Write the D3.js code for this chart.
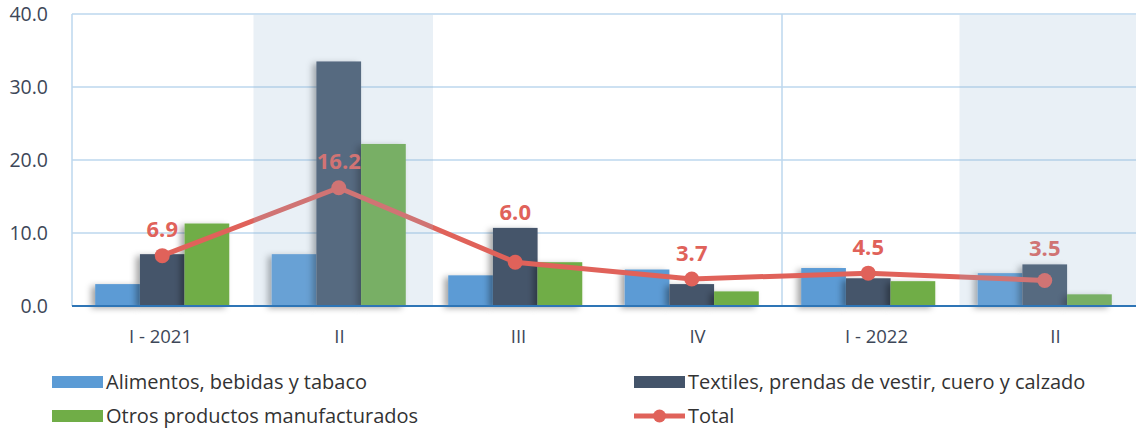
<!DOCTYPE html>
<html lang="es">
<head>
  <script src="https://d3js.org/d3.v7.min.js"></script>
  <style>
    body { margin: 0; background: #fff; font-family: "Open Sans", "Noto Sans", sans-serif; }
    .tick text { fill: #3d4758; }
  </style>
</head>
<body>
<div id="chart"></div>
<script>
  // data
  var periods = ["I - 2021", "II", "III", "IV", "I - 2022", "II"];
  var alimentos = [3.0, 7.1, 4.2, 5.0, 5.2, 4.5];
  var textiles = [7.1, 33.5, 10.7, 3.0, 3.8, 5.7];
  var otros = [11.3, 22.2, 6.0, 2.0, 3.4, 1.6];
  var total = [6.9, 16.2, 6.0, 3.7, 4.5, 3.5];
  var yTicks = [0, 10, 20, 30, 40];
  var shadedPeriods = [1, 5];

  var seriesNames = ["Alimentos, bebidas y tabaco", "Textiles, prendas de vestir, cuero y calzado",
                     "Otros productos manufacturados", "Total"];
  var colors = ["#5b9bd5", "#44546a", "#70ad47", "#e0625a"];

  var width = 1136, height = 433;
  var plotLeft = 72, plotRight = 1136, plotTop = 14, plotBottom = 306;

  var svg = d3.select("#chart").append("svg")
      .attr("width", width)
      .attr("height", height);

  var defs = svg.append("defs");
  var shadow = defs.append("filter").attr("id", "shadow")
      .attr("x", "-30%").attr("y", "-10%").attr("width", "160%").attr("height", "130%");
  shadow.append("feDropShadow")
      .attr("dx", -4).attr("dy", 2).attr("stdDeviation", 3)
      .attr("flood-color", "#000").attr("flood-opacity", 0.35);

  var idx = d3.range(periods.length);
  var x = d3.scaleBand().domain(idx).range([74, 1133]).paddingInner(0).paddingOuter(0);
  var xs = d3.scaleBand().domain([0, 1, 2]).range([0, x.bandwidth()]).paddingOuter(0.475).paddingInner(0);
  // category labels are spread a little wider than the bar groups
  var xLabel = d3.scaleBand().domain(idx).range([71, 1145]);
  var y = d3.scaleLinear().domain([0, 40]).range([plotBottom, plotTop]);

  // gridlines
  svg.append("g").selectAll("line").data(yTicks).enter().append("line")
      .attr("x1", plotLeft).attr("x2", plotRight)
      .attr("y1", function(d) { return y(d); }).attr("y2", function(d) { return y(d); })
      .attr("stroke", "#bdd7ee").attr("stroke-width", 1.5);
  svg.append("line")
      .attr("x1", plotLeft).attr("x2", plotLeft).attr("y1", plotTop).attr("y2", plotBottom)
      .attr("stroke", "#bdd7ee").attr("stroke-width", 1.5);
  // year separator
  svg.append("line")
      .attr("x1", x(4) + 2).attr("x2", x(4) + 2).attr("y1", plotTop).attr("y2", plotBottom)
      .attr("stroke", "#bdd7ee").attr("stroke-width", 1.5);

  // bars
  var groups = [alimentos, textiles, otros];
  groups.forEach(function(vals, s) {
    svg.append("g").attr("filter", "url(#shadow)")
      .selectAll("rect").data(vals).enter().append("rect")
        .attr("x", function(d, i) { return x(i) + xs(s); })
        .attr("width", xs.bandwidth())
        .attr("y", function(d) { return y(d); })
        .attr("height", function(d) { return y(0) - y(d); })
        .attr("fill", colors[s]);
  });

  // x axis line
  svg.append("line")
      .attr("x1", plotLeft).attr("x2", plotRight).attr("y1", y(0)).attr("y2", y(0))
      .attr("stroke", "#2e75b6").attr("stroke-width", 2);

  // total line
  var line = d3.line()
      .x(function(d, i) { return x(i) + x.bandwidth() / 2; })
      .y(function(d) { return y(d); });
  svg.append("path").datum(total)
      .attr("d", line)
      .attr("fill", "none")
      .attr("stroke", colors[3])
      .attr("stroke-width", 5)
      .attr("stroke-linejoin", "round");
  svg.append("g").selectAll("circle").data(total).enter().append("circle")
      .attr("cx", function(d, i) { return x(i) + x.bandwidth() / 2; })
      .attr("cy", function(d) { return y(d); })
      .attr("r", 7.5)
      .attr("fill", colors[3]);

  // labels above points, lifted over the dark bar when it sits just above
  svg.append("g").selectAll("text").data(total).enter().append("text")
      .attr("x", function(d, i) { return x(i) + x.bandwidth() / 2; })
      .attr("y", function(d, i) {
        var ly = y(d) - 26;
        var gap = y(d) - y(textiles[i]);
        if (gap > 10 && gap < 45) ly = Math.min(ly, y(textiles[i]) - 16);
        return ly;
      })
      .attr("dy", "0.35em")
      .attr("text-anchor", "middle")
      .attr("fill", colors[3])
      .style("font-size", "22px")
      .style("font-weight", "bold")
      .text(function(d) { return d.toFixed(1); });

  // shaded bands (drawn over the marks, semi-transparent)
  svg.append("g").selectAll("rect").data(shadedPeriods).enter().append("rect")
      .attr("x", function(d) { return x(d) + 3; })
      .attr("width", x.bandwidth() + 3)
      .attr("y", plotTop + 1)
      .attr("height", plotBottom - plotTop - 2)
      .attr("fill", "rgb(150,185,212)")
      .attr("fill-opacity", 0.21);

  // y axis
  var yAxis = d3.axisLeft(y).tickValues(yTicks).tickFormat(d3.format(".1f")).tickSize(0).tickPadding(0);
  var gy = svg.append("g").attr("transform", "translate(48,0)").call(yAxis);
  gy.select(".domain").remove();
  gy.selectAll("text").style("font-size", "19.5px").style("font-family", "Open Sans, Noto Sans, sans-serif");

  // x axis labels
  var xAxis = d3.axisBottom(xLabel).tickFormat(function(i) { return periods[i]; }).tickSize(0).tickPadding(24);
  var gx = svg.append("g").attr("transform", "translate(0," + plotBottom + ")").call(xAxis);
  gx.select(".domain").remove();
  gx.selectAll("text").style("font-size", "18.5px").style("font-family", "Open Sans, Noto Sans, sans-serif")
      .attr("fill", "#333");

  // legend
  var legendPos = [[52, 382], [634, 382], [52, 416], [634, 416]];
  var legend = svg.append("g").selectAll("g").data(seriesNames).enter().append("g")
      .attr("transform", function(d, i) { return "translate(" + legendPos[i][0] + "," + legendPos[i][1] + ")"; });
  legend.each(function(d, i) {
    var g = d3.select(this);
    if (i < 3) {
      g.append("rect").attr("x", 0).attr("y", -6).attr("width", 51).attr("height", 12).attr("fill", colors[i]);
    } else {
      g.append("line").attr("x1", 0).attr("x2", 51).attr("y1", 0).attr("y2", 0)
        .attr("stroke", colors[3]).attr("stroke-width", 5);
      g.append("circle").attr("cx", 25.5).attr("cy", 0).attr("r", 6.5).attr("fill", colors[3]);
    }
    g.append("text").attr("x", 54).attr("dy", "0.35em")
      .style("font-size", "20px").attr("fill", "#333").text(d);
  });
</script>
</body>
</html>
